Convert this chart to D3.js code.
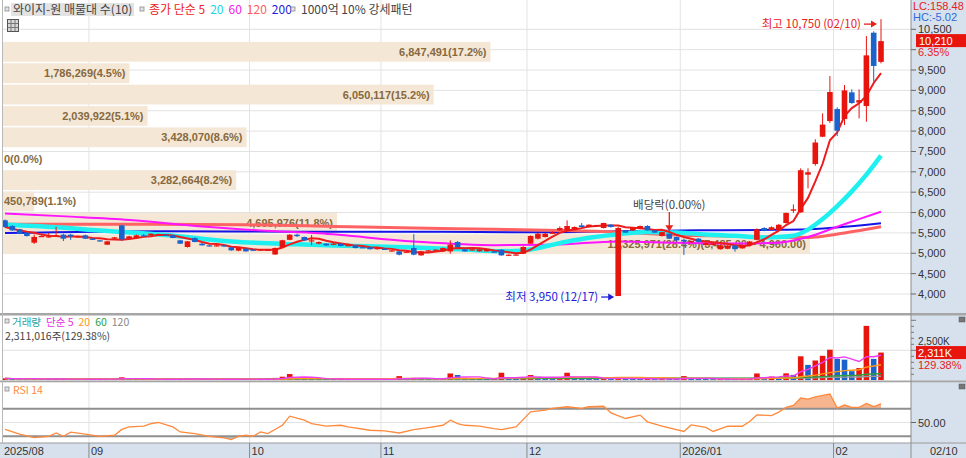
<!DOCTYPE html>
<html>
<head>
<meta charset="utf-8">
<script src="https://cdn.jsdelivr.net/npm/d3@7.9.0/dist/d3.min.js"></script>
<style>
  body { margin: 0; background: #fff; }
  svg { display: block; }
</style>
</head>
<body>
<svg id="chart" width="966" height="458"></svg>
<script>
// ---- candles (index 0 = 2025/08/13 ... 120 = 2026/02/10) ----
const opens = [5810,5670,5590,5506,5260,5415,5400,5420,5457,5457,5399,5441,
  5358,5318,5211,5358,5686,5358,5375,5441,5441,5465,5457,5441,5318,5154,5375,5236,5195,5180,5195,5146,5064,5113,
  5090,5070,5070,4970,5150,5330,5457,5400,5300,5236,5236,5210,5236,5190,5195,5150,5150,5100,
  5110,5047,5047,5031,5129,4949,5060,5072,5047,5047,5277,5097,5080,5047,5047,5047,5088,4949,4960,4990,
  5236,5358,5399,5490,5563,5563,5588,5686,5645,5686,5620,5702,3950,5563,5563,5600,5670,5563,5424,5481,5399,
  5330,5270,5360,5200,5200,5100,5110,5190,5120,5200,5330,5620,5571,5571,5743,6045,6006,6930,7192,7862,8247,
  8542,8296,8951,8700,8615,10416,9700];
const highs = [5830,5690,5600,5520,5460,5440,5500,5650,5480,5480,5430,5460,
  5370,5330,5300,5400,5700,5430,5460,5470,5490,5480,5470,5450,5330,5300,5390,5250,5210,5210,5200,5150,5140,5120,
  5100,5110,5100,5140,5330,5470,5480,5410,5450,5290,5250,5250,5240,5210,5200,5160,5160,5140,
  5120,5080,5060,5045,5470,5060,5080,5095,5140,5318,5300,5110,5100,5110,5110,5060,5100,4975,4990,5170,
  5440,5500,5500,5540,5660,5808,5660,5743,5710,5700,5750,5720,5650,5570,5630,5680,5690,5570,5530,5490,5410,
  5360,5310,5370,5260,5250,5210,5200,5200,5200,5300,5610,5640,5660,5720,6000,6200,7086,7086,7800,8436,9352,
  8584,9131,9025,9025,10334,10450,10750];
const lows = [5630,5550,5470,5410,5230,5400,5380,5410,5300,5330,5390,5350,
  5330,5290,5200,5340,5300,5350,5370,5400,5430,5450,5430,5370,5230,5140,5270,5190,5170,5170,5160,5060,5050,5040,
  5060,5060,5060,4960,5140,5320,5400,5300,5200,5220,5180,5200,5170,5180,5120,5130,5090,5090,
  5090,5040,4950,5020,4950,4940,5050,5065,5040,4990,5140,5040,5070,5040,5040,5010,4940,4930,4950,4980,
  5230,5340,5390,5480,5550,5550,5580,5630,5640,5670,5610,5630,3950,5500,5550,5590,5550,5500,5410,5350,5300,
  4960,5260,5270,5190,5190,5090,5100,5040,5110,5190,5320,5540,5560,5560,5730,5990,5990,6595,7150,7850,8200,
  7879,8150,8670,8313,8230,9212,9663];
const closes = [5645,5563,5481,5424,5400,5424,5418,5440,5358,5416,5416,5358,
  5342,5300,5293,5391,5342,5416,5441,5424,5480,5468,5441,5375,5236,5293,5277,5195,5180,5195,5170,5072,5129,5047,
  5070,5100,5090,5130,5320,5457,5420,5318,5318,5277,5195,5236,5180,5200,5130,5140,5100,5129,
  5100,5072,4966,5040,4966,5047,5072,5090,5129,5211,5154,5047,5097,5097,5097,5015,4949,4966,4970,5154,
  5424,5481,5481,5506,5620,5670,5645,5645,5702,5690,5743,5645,5620,5506,5620,5670,5563,5506,5520,5358,5318,
  5290,5300,5280,5250,5240,5195,5190,5100,5190,5290,5590,5550,5640,5700,5990,6080,7040,6990,7720,8160,8960,
  8010,9000,8690,8760,9860,9600,10210];
const volumes = [150000,130000,110000,100000,160000,90000,80000,110000,120000,90000,70000,100000,
  80000,90000,130000,100000,250000,110000,120000,80000,90000,70000,80000,100000,120000,150000,110000,90000,80000,70000,90000,120000,100000,90000,
  80000,70000,90000,200000,300000,520000,180000,150000,140000,110000,100000,80000,90000,70000,100000,80000,90000,70000,
  80000,60000,350000,90000,200000,150000,100000,80000,120000,570000,440000,180000,120000,100000,90000,110000,630000,150000,100000,250000,
  440000,300000,200000,150000,180000,630000,250000,200000,150000,120000,180000,140000,200000,150000,120000,100000,150000,110000,120000,100000,90000,
  350000,150000,120000,100000,90000,110000,100000,80000,90000,150000,570000,170000,310000,220000,580000,450789,2000000,1282664,1650000,2039922,2550000,
  1778070,1720000,760000,1020117,4536475,1786269,2311016];

// month starts (candle index) and labels
const monthIdx = [0, 12, 34, 52, 72, 93, 114];
const monthLabels = ["2025/08", "09", "10", "11", "12", "2026/01", "02"];
const lastDate = "02/10";
const lowDate = "12/17";
const dividendIdx = 91;

// price moving averages (index, value)
const ma20Idx = [0,7,13,22,31,40,48,56,63,68,71,76,80,84,88,92,96,100,104,106,108,110,112,114,116,118,120];
const ma20Val = [5700,5640,5560,5450,5290,5220,5180,5140,5090,5050,5070,5250,5380,5470,5520,5510,5460,5430,5390,5400,5430,5580,5840,6160,6520,6930,7400];
const ma60Idx = [0,9,17,27,35,43,56,67,75,84,92,100,105,110,114,117,120];
const ma60Val = [5975,5900,5820,5660,5560,5490,5290,5200,5210,5290,5260,5240,5250,5400,5650,5840,6020];
const ma120Idx = [0,20,33,45,56,67,76,84,92,100,106,110,115,120];
const ma120Val = [5715,5710,5700,5660,5620,5590,5560,5520,5450,5420,5390,5390,5500,5650];
const ma200Idx = [0,22,40,60,70,84,95,105,110,115,120];
const ma200Val = [5495,5540,5530,5530,5515,5540,5565,5575,5590,5650,5740];

// RSI 14
const rsiIdx = [0,2,4,6,7,8,9,11,13,15,16,17,19,20,21,23,24,26,28,30,31,32,33,34,35,36,38,39,41,42,44,46,47,50,52,54,56,57,58,60,61,62,63,65,67,68,70,72,74,75,77,79,80,82,83,85,87,88,90,93,94,96,97,99,101,102,103,105,106,107,108,109,110,111,113,114,115,116,117,118,119,120];
const rsiVal = [40,33,28,30,35,30,36,33,30,31.5,40,43.6,44.8,48.5,50,43.6,36.3,33.8,30,27.6,25.3,30,31.5,30,36.3,33.8,46,59.2,53.4,48.5,44.8,46,43.6,38.8,37.9,34.8,39.8,41.2,42.7,46,53.4,48.5,46,44.8,41.2,39.8,43.6,65.5,68,70.4,72.8,70.4,72.8,73.8,64,55.8,60.7,51,44.8,37,46.5,43,37,44.6,44.6,51.4,61,60,65,72,74.8,85.5,84,87,91.3,70.8,75.3,71.9,71.9,77.7,72.9,77];

// volume profile (10 bands, bottom to top)
const profileLow = 4960, profileStep = 525;
const profileVol = [11325971, 4695976, 450789, 3282664, 0, 3428070, 2039922, 6050117, 1786269, 6847491];
const profilePct = [28.4, 11.8, 1.1, 8.2, 0.0, 8.6, 5.1, 15.2, 4.5, 17.2];

const priceTicks = [4000,4500,5000,5500,6000,6500,7000,7500,8000,8500,9000,9500,10500];

// ---- layout ----
const plotL = 3, plotR = 911;
const mainBot = 313, volTop = 316, volBot = 380.3, rsiTop = 382, rsiBot = 443;
const UP = "#e8150f", DOWN = "#1c62cc", AXISBG = "#d7e1ed", GRID = "#e2e2e2";
const fNum = "'Liberation Sans', Arial, sans-serif";
const fKr = "'Noto Sans CJK KR', 'Liberation Sans', sans-serif";

const svg = d3.select("#chart");
const fmt = d3.format(",");
const n = closes.length;

const x = d3.scaleLinear().domain([0, n - 1]).range([5, 881]);
const step = x(1) - x(0);
const y = d3.scaleLinear().domain([4000, 10500]).range([294, 29.3]);
const yVol = d3.scaleLinear().domain([0, 2500000]).range([volBot, 350.3]);
const yRsi = d3.scaleLinear().domain([30, 70]).range([436.3, 408.7]);
const profX = d3.scaleLinear().domain([0, d3.max(profileVol)]).range([2, 810]);

const sma = (arr, k) => arr.map((_, i) => d3.mean(arr.slice(Math.max(0, i - k + 1), i + 1)));
const pts = (idx, val) => idx.map((d, j) => [d, val[j]]);

const defs = svg.append("defs");
defs.append("clipPath").attr("id", "clipMain").append("rect")
  .attr("x", plotL).attr("y", 0).attr("width", plotR - plotL).attr("height", mainBot);
defs.append("clipPath").attr("id", "clipVol").append("rect")
  .attr("x", plotL).attr("y", volTop).attr("width", plotR - plotL).attr("height", volBot - volTop);
defs.append("clipPath").attr("id", "clipHi").append("rect")
  .attr("x", plotL).attr("y", rsiTop).attr("width", plotR - plotL).attr("height", yRsi(70) - rsiTop);
defs.append("clipPath").attr("id", "clipLo").append("rect")
  .attr("x", plotL).attr("y", yRsi(30)).attr("width", plotR - plotL).attr("height", rsiBot - yRsi(30));

// backgrounds
svg.append("rect").attr("width", 966).attr("height", 458).attr("fill", "#fff");
svg.append("rect").attr("x", plotR).attr("y", 0).attr("width", 966 - plotR).attr("height", 458).attr("fill", AXISBG);
svg.append("rect").attr("x", 0).attr("y", rsiBot).attr("width", 966).attr("height", 458 - rsiBot).attr("fill", AXISBG);

// grid
const monthX = monthIdx.map(i => x(i) - step / 2);
svg.append("g").selectAll("line").data(priceTicks.concat([10000])).join("line")
  .attr("x1", plotL).attr("x2", plotR).attr("y1", d => y(d)).attr("y2", d => y(d))
  .attr("stroke", GRID);
svg.append("g").selectAll("line").data(monthX.slice(1)).join("line")
  .attr("x1", d => d).attr("x2", d => d).attr("y1", 0).attr("y2", rsiBot)
  .attr("stroke", GRID);
svg.append("line").attr("x1", plotL).attr("x2", plotR).attr("y1", yVol(2500000)).attr("y2", yVol(2500000)).attr("stroke", GRID);
svg.append("line").attr("x1", plotL).attr("x2", plotR).attr("y1", yRsi(50)).attr("y2", yRsi(50)).attr("stroke", GRID);

// ---- main panel ----
const main = svg.append("g").attr("clip-path", "url(#clipMain)");

// volume profile
const bands = profileVol.map((v, k) => ({
  v, pct: profilePct[k],
  lo: profileLow + k * profileStep, hi: profileLow + (k + 1) * profileStep
}));
const maxBand = d3.maxIndex(profileVol);
main.append("g").selectAll("rect").data(bands).join("rect")
  .attr("x", 2).attr("width", d => Math.max(0, profX(d.v) - 2))
  .attr("y", d => y(d.hi) + 0.8).attr("height", d => y(d.lo) - y(d.hi) - 1.6)
  .attr("fill", "#f5e7d6");
const profLabels = main.append("g").selectAll("text").data(bands).join("text")
  .attr("y", d => (y(d.hi) + y(d.lo)) / 2 + 4)
  .attr("text-anchor", "end")
  .attr("font-family", fNum).attr("font-size", 11).attr("font-weight", "bold")
  .attr("fill", "#86693e")
  .text((d, k) => `${fmt(d.v)}(${d.pct.toFixed(1)}%)` +
    (k === maxBand ? `(${d3.format(",.2f")(d.hi)} ~ ${d3.format(",.2f")(d.lo)})` : ""));
profLabels.each(function(d) {
  const len = this.getComputedTextLength();
  d3.select(this).attr("x", Math.max(profX(d.v) - 4, 4 + len));
});

// moving averages
const lineMA = d3.line().x(d => x(d[0])).y(d => y(d[1])).curve(d3.curveMonotoneX);
const ma5 = sma(closes, 5).map((v, i) => [i, v]);
[
  { p: pts(ma200Idx, ma200Val), c: "#1414e6", w: 2 },
  { p: pts(ma120Idx, ma120Val), c: "#ff6262", w: 3 },
  { p: pts(ma60Idx, ma60Val), c: "#ff14ff", w: 2 },
  { p: pts(ma20Idx, ma20Val), c: "#1ef0f0", w: 4.5 }
].forEach(m => {
  main.append("path").datum(m.p).attr("d", lineMA)
    .attr("fill", "none").attr("stroke", m.c).attr("stroke-width", m.w);
});
main.append("path").datum(ma5).attr("d", d3.line().x(d => x(d[0])).y(d => y(d[1])))
  .attr("fill", "none").attr("stroke", "#ee1c1c").attr("stroke-width", 2);

// candles
const idx = d3.range(n);
const col = i => closes[i] >= opens[i] ? UP : DOWN;
main.append("g").selectAll("line").data(idx).join("line")
  .attr("x1", i => x(i)).attr("x2", i => x(i))
  .attr("y1", i => y(highs[i])).attr("y2", i => y(lows[i]))
  .attr("stroke", col).attr("stroke-width", 1);
main.append("g").selectAll("rect").data(idx).join("rect")
  .attr("x", i => x(i) - 2.8).attr("width", 5.6)
  .attr("y", i => y(Math.max(opens[i], closes[i])))
  .attr("height", i => Math.max(1.2, Math.abs(y(opens[i]) - y(closes[i]))))
  .attr("fill", col);

// high / low markers
const hiI = d3.maxIndex(highs), loI = d3.minIndex(lows);
function marker(i, price, text, color, dy) {
  const yy = y(price) + dy;
  const x2 = x(i) - 4, x1 = x2 - 13;
  svg.append("line").attr("x1", x1).attr("x2", x2 - 4).attr("y1", yy).attr("y2", yy)
    .attr("stroke", color).attr("stroke-width", 1.3);
  svg.append("path").attr("d", `M${x2},${yy} l-6,-3.5 l0,7 z`).attr("fill", color);
  svg.append("text").attr("x", x1 - 3).attr("y", yy + 4).attr("text-anchor", "end")
    .attr("font-family", fKr).attr("font-size", 11.5).attr("fill", color).text(text);
}
marker(hiI, highs[hiI], `최고 ${fmt(highs[hiI])} (${lastDate})`, "#e8201a", 5);
marker(loI, lows[loI], `최저 ${fmt(lows[loI])} (${lowDate})`, "#2020dc", 1);

// dividend marker
const dX = x(dividendIdx), dTip = y(highs[dividendIdx]) - 2;
svg.append("text").attr("x", dX).attr("y", 209).attr("text-anchor", "middle")
  .attr("font-family", fKr).attr("font-size", 11.5).attr("fill", "#444").text("배당락(0.00%)");
svg.append("line").attr("x1", dX).attr("x2", dX).attr("y1", 212).attr("y2", dTip - 5)
  .attr("stroke", "#e8201a").attr("stroke-width", 1.3);
svg.append("path").attr("d", `M${dX},${dTip} l-4,-6 l8,0 z`).attr("fill", "#e8201a");

// ---- volume panel ----
const vcol = i => (i === 0 || volumes[i] >= volumes[i - 1]) ? UP : DOWN;
const vol = svg.append("g").attr("clip-path", "url(#clipVol)");
vol.append("g").selectAll("rect").data(idx).join("rect")
  .attr("x", i => x(i) - 2.8).attr("width", 5.6)
  .attr("y", i => Math.min(yVol(volumes[i]), volBot - 2))
  .attr("height", i => Math.max(2, volBot - yVol(volumes[i])))
  .attr("fill", vcol);
const lineV = d3.line().x((d, i) => x(i)).y(d => yVol(d));
[[120, "#9a9a9a"], [60, "#2f9e3f"], [20, "#ff9a1a"], [5, "#f03cf0"]].forEach(([k, c]) => {
  vol.append("path").datum(sma(volumes, k)).attr("d", lineV)
    .attr("fill", "none").attr("stroke", c).attr("stroke-width", 1.4);
});

// ---- RSI panel ----
const rsiPts = pts(rsiIdx, rsiVal);
svg.append("path").datum(rsiPts).attr("clip-path", "url(#clipHi)")
  .attr("d", d3.area().x(d => x(d[0])).y0(yRsi(70)).y1(d => yRsi(d[1])))
  .attr("fill", "#f7b58f");
svg.append("path").datum(rsiPts).attr("clip-path", "url(#clipLo)")
  .attr("d", d3.area().x(d => x(d[0])).y0(yRsi(30)).y1(d => yRsi(d[1])))
  .attr("fill", "#a9c3c6");
[70, 30].forEach(v => {
  svg.append("line").attr("x1", plotL).attr("x2", plotR).attr("y1", yRsi(v)).attr("y2", yRsi(v))
    .attr("stroke", "#8f8f8f").attr("stroke-width", 2);
});
svg.append("path").datum(rsiPts)
  .attr("d", d3.line().x(d => x(d[0])).y(d => yRsi(d[1])))
  .attr("fill", "none").attr("stroke", "#ff8a3d").attr("stroke-width", 1.3);

// ---- panel borders ----
svg.append("rect").attr("x", 0).attr("y", 313).attr("width", 966).attr("height", 2.5).attr("fill", "#a6a6a6");
svg.append("rect").attr("x", 0).attr("y", 380.5).attr("width", 966).attr("height", 1.8).attr("fill", "#a6a6a6");
svg.append("line").attr("x1", 0).attr("x2", 966).attr("y1", rsiBot).attr("y2", rsiBot).attr("stroke", "#9a9a9a");
svg.append("line").attr("x1", plotR).attr("x2", plotR).attr("y1", 0).attr("y2", 458).attr("stroke", "#8d8d8d");
svg.append("line").attr("x1", 2.5).attr("x2", 2.5).attr("y1", 0).attr("y2", rsiBot).attr("stroke", "#b8b8b8");

// ---- right axis ----
const ax = svg.append("g").attr("font-family", fNum).attr("font-size", 11).attr("fill", "#333");
priceTicks.forEach(v => {
  ax.append("line").attr("x1", plotR).attr("x2", plotR + 5).attr("y1", y(v)).attr("y2", y(v)).attr("stroke", "#666");
  ax.append("text").attr("x", plotR + 7).attr("y", y(v) + 4).text(fmt(v));
});
ax.append("rect").attr("x", plotR + 1).attr("y", 0).attr("width", 60).attr("height", 24).attr("fill", AXISBG);
ax.append("text").attr("x", plotR + 2).attr("y", 10).attr("fill", "#e8201a").text("LC:158.48");
ax.append("text").attr("x", plotR + 2).attr("y", 21).attr("fill", "#2a6ad8").text("HC:-5.02");
const last = closes[n - 1], prev = closes[n - 2];
ax.append("rect").attr("x", plotR + 5).attr("y", y(last) - 7).attr("width", 55).attr("height", 13).attr("fill", UP);
ax.append("text").attr("x", plotR + 8).attr("y", y(last) + 4).attr("fill", "#fff").text(fmt(last));
ax.append("line").attr("x1", plotR).attr("x2", plotR + 5).attr("y1", y(10000)).attr("y2", y(10000)).attr("stroke", "#666");
ax.append("text").attr("x", plotR + 7).attr("y", y(last) + 15).attr("fill", "#e8201a")
  .text(`${((last / prev - 1) * 100).toFixed(2)}%`);

// volume axis
d3.range(500000, 5000001, 500000).forEach(v => {
  ax.append("line").attr("x1", plotR).attr("x2", plotR + (v % 2500000 === 0 ? 5 : 3))
    .attr("y1", yVol(v)).attr("y2", yVol(v)).attr("stroke", "#777");
});
const lastV = volumes[n - 1], prevV = volumes[n - 2];
const vBoxTop = yVol(lastV) - 6.5;
ax.append("text").attr("x", plotR + 7).attr("y", vBoxTop - 1).attr("font-size", 10).text("2,500K");
ax.append("rect").attr("x", plotR + 5).attr("y", vBoxTop).attr("width", 55).attr("height", 13).attr("fill", UP);
ax.append("text").attr("x", plotR + 7).attr("y", yVol(lastV) + 4).attr("fill", "#fff").text(fmt(Math.round(lastV / 1000)) + "K");
ax.append("text").attr("x", plotR + 7).attr("y", yVol(lastV) + 16).attr("fill", "#e8201a")
  .text(`${(lastV / prevV * 100).toFixed(2)}%`);

// RSI axis
ax.append("line").attr("x1", plotR).attr("x2", plotR + 5).attr("y1", yRsi(50)).attr("y2", yRsi(50)).attr("stroke", "#666");
ax.append("text").attr("x", plotR + 7).attr("y", yRsi(50) + 4).text("50.00");

// panel corner icons
[317, 384].forEach(t => {
  svg.append("rect").attr("x", 959).attr("y", t).attr("width", 6).attr("height", 5)
    .attr("fill", "#777").attr("stroke", "#555").attr("stroke-width", 0.5);
});

// ---- date axis ----
const dax = svg.append("g").attr("font-family", fNum).attr("font-size", 11).attr("fill", "#333");
monthX.forEach((mx, k) => {
  if (k > 0) dax.append("line").attr("x1", mx).attr("x2", mx).attr("y1", rsiBot).attr("y2", 458).attr("stroke", "#8a8a8a");
  dax.append("text").attr("x", Math.max(mx, 2) + 2).attr("y", 455).text(monthLabels[k]);
});
dax.append("text").attr("x", plotR + 19).attr("y", 455).text(lastDate);

// ---- legends ----
function icon(g, px, py) {
  g.append("rect").attr("x", px).attr("y", py).attr("width", 4).attr("height", 4)
    .attr("fill", "#e4e4e4").attr("stroke", "#8a8a8a").attr("stroke-width", 0.8);
}
// lay texts out one after another, measuring each
function row(g, items, x0, yb, gap) {
  let cx = x0;
  items.forEach(([t, c]) => {
    const el = g.append("text").attr("x", cx).attr("y", yb).attr("fill", c).text(t);
    cx += el.node().getComputedTextLength() + gap;
  });
  return cx;
}
const lg = svg.append("g").attr("font-family", fKr).attr("font-size", 12);
icon(lg, 5, 7);
lg.append("rect").attr("x", 11).attr("y", 3).attr("width", 123).attr("height", 13).attr("fill", "#e3e3e3");
lg.append("text").attr("x", 13).attr("y", 14).attr("fill", "#444").text("와이지-원 매물대 수(10)");
icon(lg, 140, 7);
row(lg, [["종가 단순 5", "#ee2222"], ["20", "#19d6e6"], ["60", "#f020f0"],
  ["120", "#ff5c5c"], ["200", "#1c1cd8"]], 149, 14, 5);
icon(lg, 291, 7);
lg.append("text").attr("x", 301).attr("y", 14).attr("fill", "#444").text("1000억 10% 강세패턴");
// table icon
const tb = lg.append("g");
tb.append("rect").attr("x", 7.5).attr("y", 19.5).attr("width", 11).attr("height", 12)
  .attr("fill", "#d8d8d8").attr("stroke", "#555");
[11, 15].forEach(v => tb.append("line").attr("x1", v).attr("x2", v).attr("y1", 20).attr("y2", 31).attr("stroke", "#777"));
[23.5, 27.5].forEach(v => tb.append("line").attr("x1", 8).attr("x2", 18).attr("y1", v).attr("y2", v).attr("stroke", "#777"));

const vl = svg.append("g").attr("font-family", fKr).attr("font-size", 10.5);
icon(vl, 5, 319);
row(vl, [["거래량", "#26a3a3"], ["단순 5", "#e62ee6"], ["20", "#ff9a1a"],
  ["60", "#2f9e3f"], ["120", "#888"]], 12, 325.5, 5);
vl.append("text").attr("x", 5).attr("y", 340).attr("fill", "#444")
  .text(`${fmt(lastV)}주(${(lastV / prevV * 100).toFixed(2)}%)`);
icon(vl, 5, 387);
vl.append("text").attr("x", 13).attr("y", 394).attr("fill", "#ff8a3d").text("RSI 14");
</script>
</body>
</html>
